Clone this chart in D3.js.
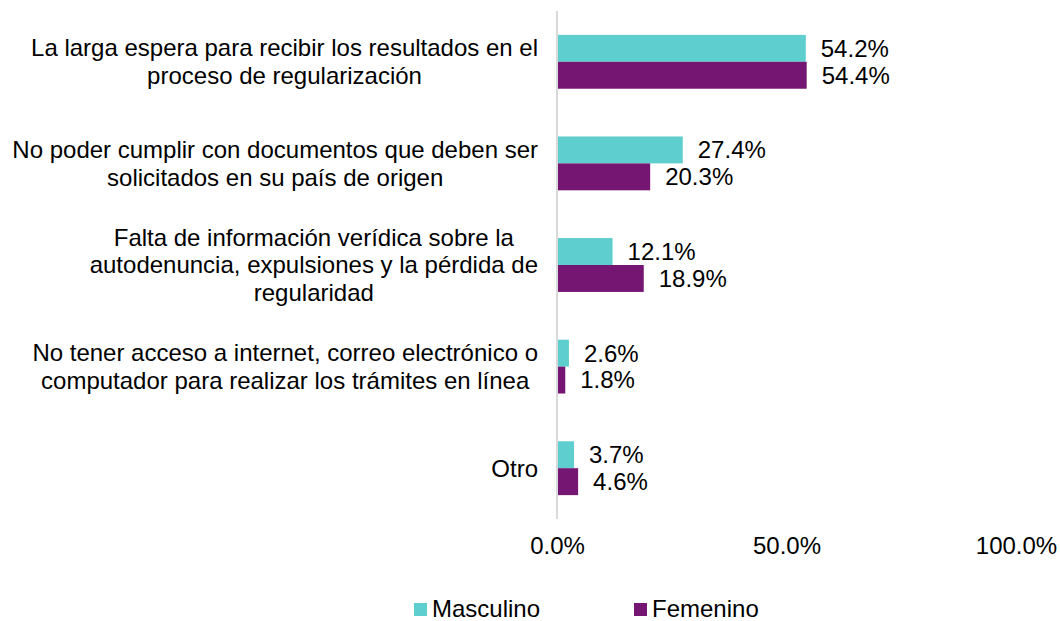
<!DOCTYPE html>
<html lang="es">
<head>
<meta charset="UTF-8">
<title>Chart</title>
<script src="https://cdn.jsdelivr.net/npm/d3@7/dist/d3.min.js"></script>
<style>
  body { margin: 0; background: #fff; overflow: hidden; }
  svg text { font-family: "Liberation Sans", Arial, sans-serif; fill: #000; }
</style>
</head>
<body>
<div id="chart"></div>
<script>
// categories (each one split in lines as in the picture)
var categories = [
  ["La larga espera para recibir los resultados en el", "proceso de regularización"],
  ["No poder cumplir con documentos que deben ser", "solicitados en su país de origen"],
  ["Falta de información verídica sobre la", "autodenuncia, expulsiones y la pérdida de", "regularidad"],
  ["No tener acceso a internet, correo electrónico o", "computador para realizar los trámites en línea"],
  ["Otro"]
];
var seriesNames = ["Masculino", "Femenino"];
var masculino = [54.2, 27.4, 12.1, 2.6, 3.7];
var femenino = [54.4, 20.3, 18.9, 1.8, 4.6];
var ticks = [0, 50, 100];
var colors = ["#5ecece", "#751672"];

var W = 1060, H = 621;
var fs = 24;
var svg = d3.select('#chart').append('svg').attr('width', W).attr('height', H);

var x = d3.scaleLinear().domain([0, 100]).range([557, 1016]);
var y = d3.scaleBand().domain(d3.range(categories.length)).range([11, 519]).paddingInner(0.47).paddingOuter(0.235);
var sub = d3.scaleBand().domain([0, 1]).range([0, y.bandwidth()]);

var series = [masculino, femenino];

// bars + value labels
series.forEach(function(vals, s) {
  svg.append('g').selectAll('rect').data(vals).enter().append('rect')
    .attr('x', x(0))
    .attr('y', function(d, i) { return y(i) + sub(s); })
    .attr('width', function(d) { return x(d) - x(0); })
    .attr('height', sub.bandwidth())
    .attr('fill', colors[s]);

  svg.append('g').selectAll('text').data(vals).enter().append('text')
    .attr('x', function(d) { return x(d) + 15; })
    .attr('y', function(d, i) { return y(i) + sub(s) + sub.bandwidth() / 2; })
    .attr('dy', '0.35em')
    .attr('font-size', fs)
    .text(function(d) { return d.toFixed(1) + '%'; });
});

// vertical axis line
svg.append('line')
  .attr('x1', x(0)).attr('x2', x(0))
  .attr('y1', 11).attr('y2', 519)
  .attr('stroke', '#d9d9d9').attr('stroke-width', 2);

// category labels: block right aligned, lines centred within block
var lineH = 27.5;
categories.forEach(function(lines, i) {
  var g = svg.append('g');
  var cy = y(i) + y.bandwidth() / 2;
  var t = g.selectAll('text').data(lines).enter().append('text')
    .attr('font-size', fs)
    .attr('text-anchor', 'middle')
    .attr('y', function(d, j) { return cy + (j - (lines.length - 1) / 2) * lineH; })
    .attr('dy', '0.35em')
    .text(function(d) { return d; });
  var maxW = d3.max(t.nodes(), function(n) { return n.getComputedTextLength(); });
  t.attr('x', 538 - maxW / 2);
});

// x axis tick labels
var axis = d3.axisBottom(x).tickValues(ticks).tickSize(0).tickPadding(0)
  .tickFormat(function(d) { return d.toFixed(1) + '%'; });
var ax = svg.append('g').attr('transform', 'translate(0,537)').call(axis);
ax.select('.domain').remove();
ax.selectAll('text').attr('font-size', fs).attr('font-family', '"Liberation Sans", Arial, sans-serif').attr('fill', '#000');

// legend
var legX = [414, 634];
seriesNames.forEach(function(name, s) {
  var g = svg.append('g').attr('transform', 'translate(' + legX[s] + ',609)');
  g.append('rect').attr('x', 0).attr('y', -6).attr('width', 13).attr('height', 13).attr('fill', colors[s]);
  g.append('text').attr('x', 18).attr('y', 0).attr('dy', '0.35em').attr('font-size', fs).text(name);
});
</script>
</body>
</html>
